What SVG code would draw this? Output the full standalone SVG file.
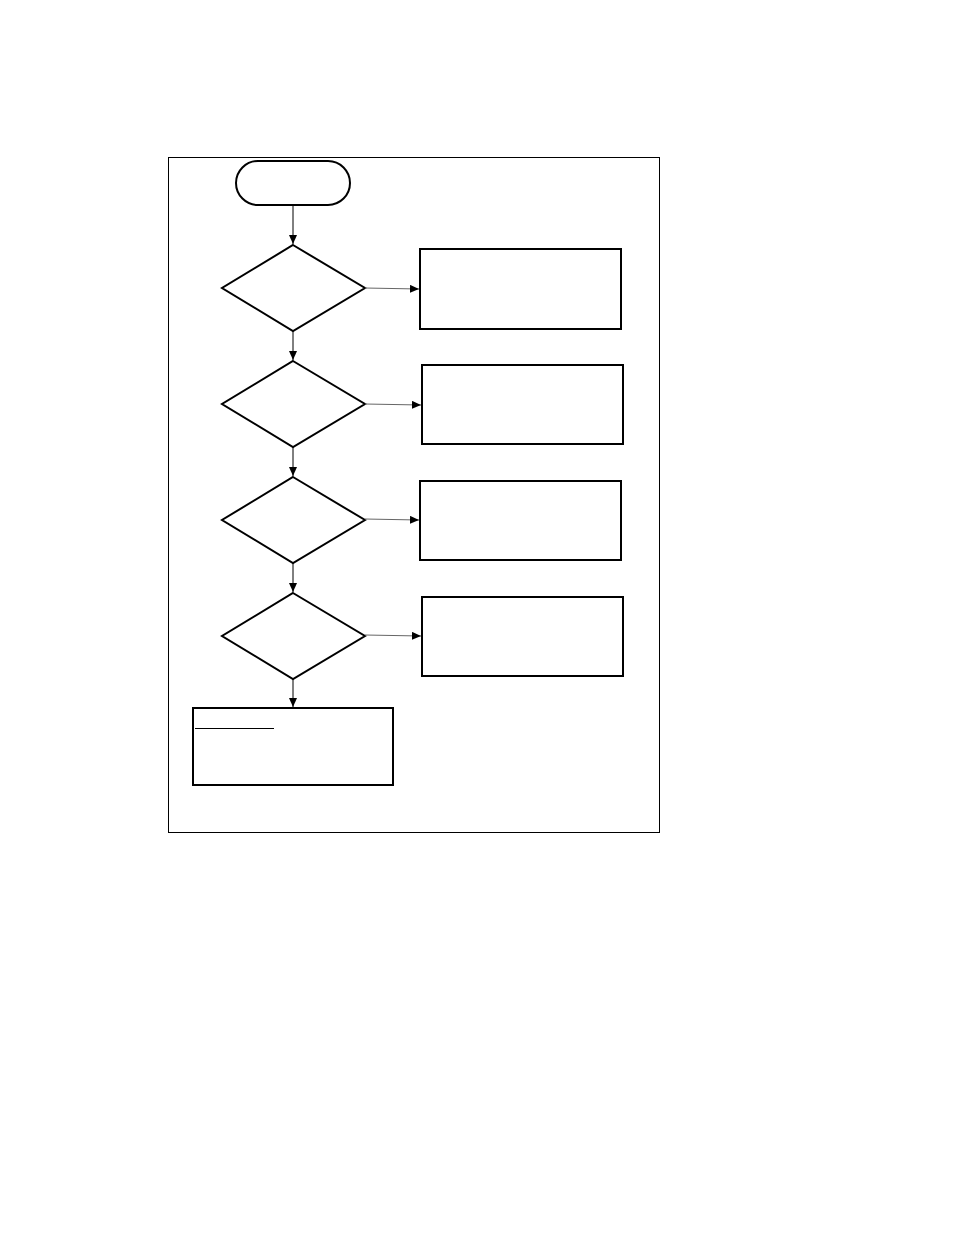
<svg xmlns="http://www.w3.org/2000/svg" width="954" height="1235" viewBox="0 0 954 1235">
<style>
.shape{fill:#fff;stroke:#000;stroke-width:2}
.frame{fill:none;stroke:#000;stroke-width:1}
.conn{stroke:#000;stroke-width:1;fill:none}
.hconn{stroke:#666;stroke-width:1;fill:none}
</style>
<defs>
<marker id="arr" markerWidth="10" markerHeight="8" refX="9" refY="4" orient="auto" markerUnits="userSpaceOnUse">
<path d="M0,0 L9,4 L0,8 Z" fill="#000"/>
</marker>
</defs>
<rect width="954" height="1235" fill="#fff"/>
<rect id="frame" class="frame" x="168.5" y="157.5" width="491" height="675"/>
<g id="start"><rect class="shape" x="236" y="161" width="114" height="44" rx="22" ry="22"/></g>
<g id="d1"><polygon class="shape" points="293,245 365,288 293,331 222,288"/></g>
<g id="d2"><polygon class="shape" points="293,361 365,404 293,447 222,404"/></g>
<g id="d3"><polygon class="shape" points="293,477 365,520 293,563 222,520"/></g>
<g id="d4"><polygon class="shape" points="293,593 365,636 293,679 222,636"/></g>
<g id="b1"><rect class="shape" x="420" y="249" width="201" height="80"/></g>
<g id="b2"><rect class="shape" x="422" y="365" width="201" height="79"/></g>
<g id="b3"><rect class="shape" x="420" y="481" width="201" height="79"/></g>
<g id="b4"><rect class="shape" x="422" y="597" width="201" height="79"/></g>
<g id="b5"><rect class="shape" x="193" y="708" width="200" height="77"/><line x1="195" y1="728.5" x2="274" y2="728.5" stroke="#000" stroke-width="1"/></g>
<g id="connectors">
<line class="conn" x1="293" y1="205" x2="293" y2="244" marker-end="url(#arr)"/>
<line class="conn" x1="293" y1="331" x2="293" y2="360" marker-end="url(#arr)"/>
<line class="conn" x1="293" y1="447" x2="293" y2="476" marker-end="url(#arr)"/>
<line class="conn" x1="293" y1="563" x2="293" y2="592" marker-end="url(#arr)"/>
<line class="conn" x1="293" y1="679" x2="293" y2="707" marker-end="url(#arr)"/>
<line class="hconn" x1="365" y1="288" x2="419" y2="289" marker-end="url(#arr)"/>
<line class="hconn" x1="365" y1="404" x2="421" y2="405" marker-end="url(#arr)"/>
<line class="hconn" x1="365" y1="519" x2="419" y2="520" marker-end="url(#arr)"/>
<line class="hconn" x1="365" y1="635" x2="421" y2="636" marker-end="url(#arr)"/>
</g>
</svg>
